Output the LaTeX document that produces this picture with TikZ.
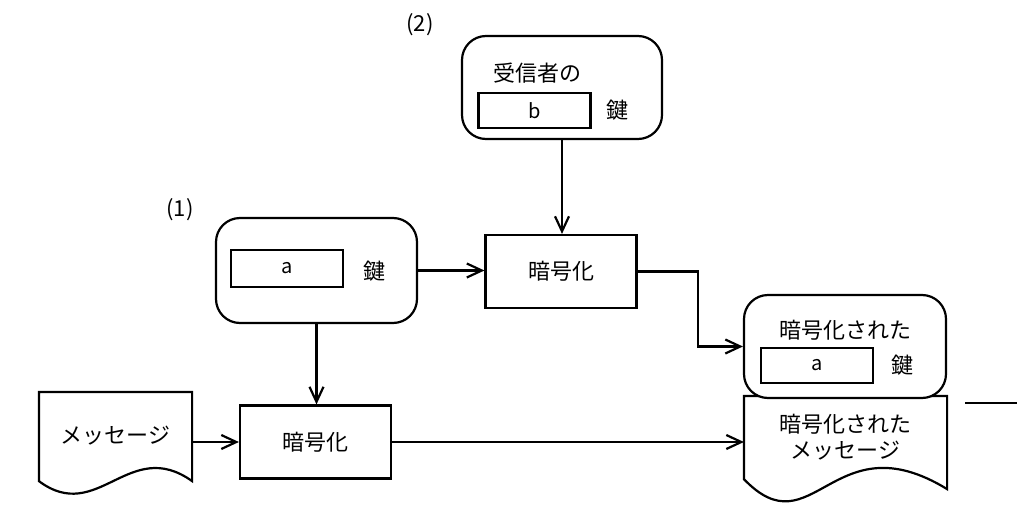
\documentclass[tikz,border=0pt]{standalone}
\usepackage{fontspec}
\setmainfont{Noto Sans CJK JP}
\usetikzlibrary{arrows.meta,calc,positioning}

\begin{document}
\begin{tikzpicture}[x=1pt,y=-1pt,line width=2.2pt,font=\fontsize{22}{26}\selectfont,
  keybox/.style={draw,rounded corners=24pt,minimum width=200pt,minimum height=103pt},
  procbox/.style={draw,minimum width=151pt,minimum height=73pt},
  slot/.style={draw,minimum width=112pt,minimum height=36pt,inner sep=0pt,font=\fontsize{20}{24}\selectfont},
  docbox/.style={minimum width=151pt,minimum height=87pt,align=center},
  flow/.style={-{Straight Barb[length=15pt,width=14pt]}}]
\useasboundingbox (0,0) rectangle (1017,506);
% (2) receiver key
\node (lab2) at (420,25) {(2)};
\node[keybox] (recv) at (562,87.5) {};
\node (recvtxt) at (537,73) {受信者の};
\node[slot,minimum height=35pt] (bslot) at (534.5,110.5) {b};
\node (bkey) at (617,110) {鍵};
% (1) key a
\node (lab1) at (180,210) {(1)};
\node[keybox,minimum width=201pt,minimum height=105pt] (akey) at (316.5,270.5) {};
\node[slot,minimum height=37pt] (aslot) at (287,268.5) {a};
\node (akeytxt) at (374,271) {鍵};
% encryption steps
\node[procbox] (enc1) at (561,271.5) {暗号化};
\node[procbox] (enc2) at (315.5,442) {暗号化};
% message document
\node[docbox] (msg) at (115.5,436.5) {\raisebox{4pt}{メッセージ}};
\draw (msg.south west) -- (msg.north west) -- (msg.north east) -- (msg.south east)
  .. controls ($(msg.south west)+(90,-45)$) and ($(msg.south west)+(59,44)$) .. (msg.south west) -- cycle;
% encrypted message document
\node[docbox,minimum width=201pt,minimum height=81pt] (emsg) at (845.5,437.5) {暗号化された\\メッセージ};
\draw (emsg.south west) -- (emsg.north west) -- (emsg.north east) -- ($(emsg.south east)+(0,10)$)
  .. controls ($(emsg.south west)+(89,-60)$) and ($(emsg.south west)+(69,72)$) .. (emsg.south west) -- cycle;
% encrypted key
\node[keybox,minimum width=202pt,fill=white] (ekey) at (845,346.5) {};
\node (ekeytxt) at (845,330) {暗号化された};
\node[slot,minimum height=35pt] (eslot) at (817,365.5) {a};
\node (ekeyk) at (902,365) {鍵};
% connectors
\draw[flow] (recv.south) -- (recv.south |- enc1.north);
\draw[flow] (akey.east) -- (akey.east -| enc1.west);
\draw[flow] (akey.south) -- (akey.south |- enc2.north);
\draw[flow] (msg.east |- enc2.west) -- (enc2.west);
\draw[flow] (enc1.east) -- ++(60,0) |- (ekey.west);
\draw[flow] (enc2.east) -- (enc2.east -| emsg.west);
\coordinate (stubL) at (965,403);
\coordinate (stubR) at (1017,403);
\draw (stubL) -- (stubR);
\end{tikzpicture}
\end{document}
